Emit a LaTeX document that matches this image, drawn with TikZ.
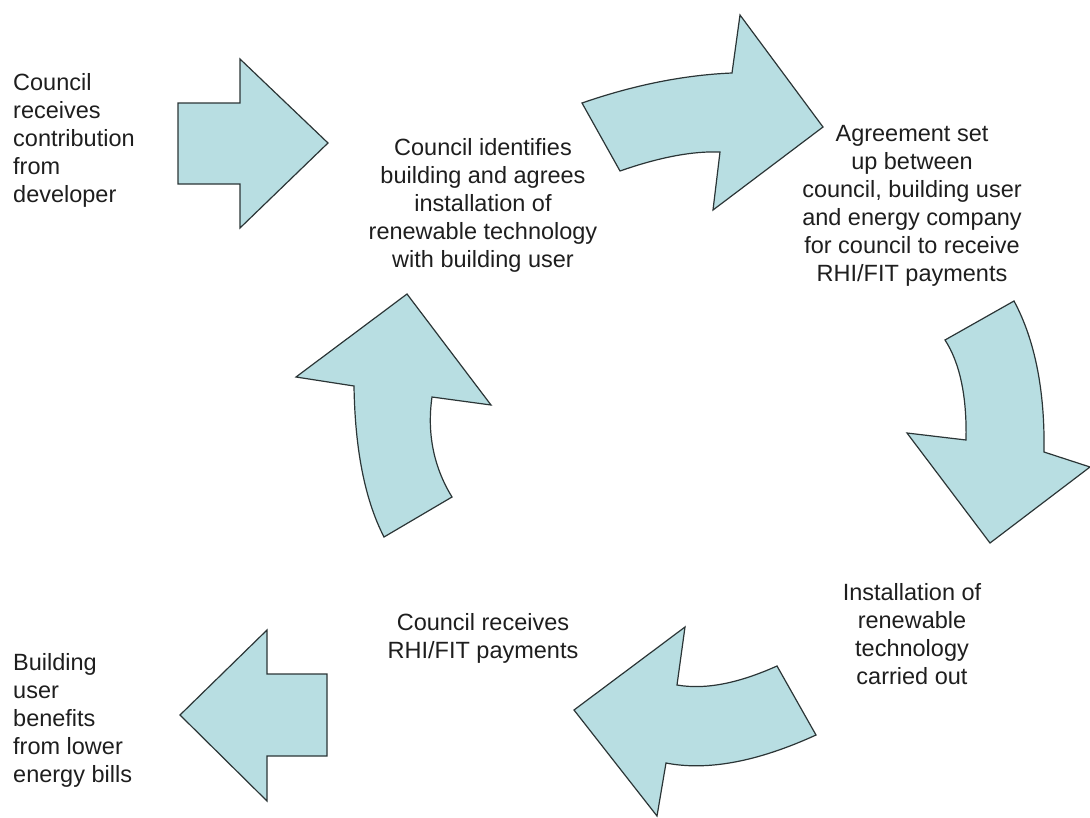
\documentclass[tikz,border=0pt]{standalone}
\usepackage{fontspec}
\setmainfont{Liberation Sans}

\definecolor{arrowfill}{HTML}{B8DEE2}
\definecolor{arrowline}{HTML}{2B3536}
\definecolor{stagetext}{HTML}{1E1E1E}

\begin{document}
\begin{tikzpicture}[
		x=1pt, y=-1pt,
		font=\fontsize{23.5}{28}\selectfont,
		text=stagetext,
		blockarrow/.style={fill=arrowfill, draw=arrowline, line width=1.2pt, line join=miter},
		stage/.style={inner sep=0pt, align=center, anchor=north},
		sidenote/.style={inner sep=0pt, align=left, anchor=north west},
	]
	\useasboundingbox (0,0) rectangle (1090,817);

	% texts of the cycle
	\node[sidenote] (contrib) at (13,73)
	{Council\\receives\\contribution\\from\\developer};
	\node[stage] (identify) at (483,138)
	{Council identifies\\building and agrees\\installation of\\renewable technology\\with building user};
	\node[stage] (agreement) at (912,125)
	{Agreement set\\up between\\council, building user\\and energy company\\for council to receive\\RHI/FIT payments};
	\node[stage] (install) at (912,583)
	{Installation of\\renewable\\technology\\carried out};
	\node[stage] (payments) at (483,613)
	{Council receives\\RHI/FIT payments};
	\node[sidenote] (benefits) at (13,653)
	{Building\\user\\benefits\\from lower\\energy bills};

	% straight arrows in and out
	\draw[blockarrow] (178,103) -- (240,103) -- (240,59) -- (328,143)
	-- (240,228) -- (240,184) -- (178,184) -- cycle;
	\draw[blockarrow] (327,674) -- (267,674) -- (267,630) -- (180,715)
	-- (267,801) -- (267,756) -- (327,756) -- cycle;

	% curved arrows round the cycle
	\draw[blockarrow] (582,103) .. controls (634,85) and (684,75) .. (732,73) -- (740,15)
	-- (823,127) -- (713,210) -- (720,152) .. controls (693,151) and (660,157) .. (620,171) -- cycle;
	\draw[blockarrow] (1014,301) .. controls (1035,340) and (1045,391) .. (1044,452) -- (1090,467)
	-- (990,543) -- (907,433) -- (966,440) .. controls (967,397) and (960,363) .. (945,340) -- cycle;
	\draw[blockarrow] (777,666) .. controls (739,683) and (706,690) .. (677,685) -- (685,627)
	-- (574,710) -- (657,816) -- (666,763) .. controls (707,771) and (757,762) .. (816,735) -- cycle;
	\draw[blockarrow] (452,497) .. controls (433,466) and (427,432) .. (432,397) -- (491,405)
	-- (407,294) -- (296,377) -- (354,386) .. controls (355,450) and (365,500) .. (384,537) -- cycle;
\end{tikzpicture}
\end{document}
